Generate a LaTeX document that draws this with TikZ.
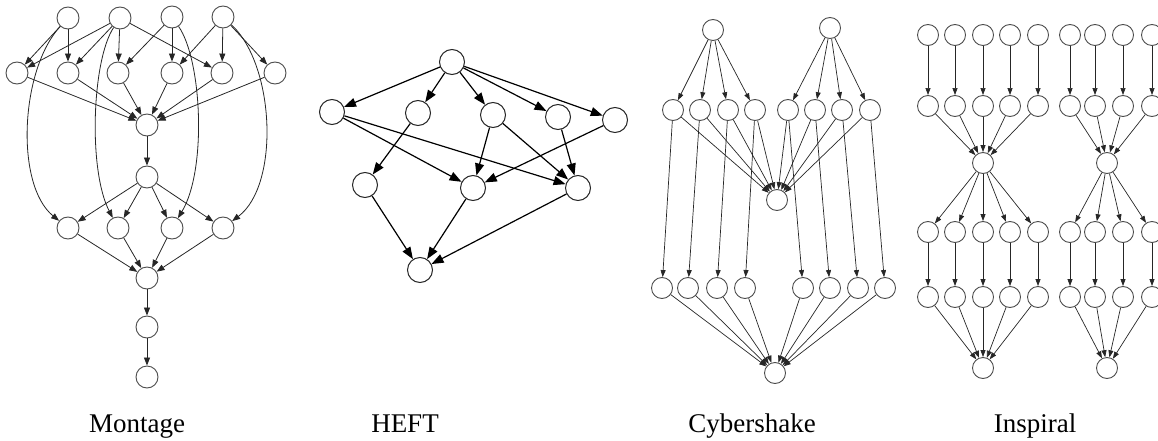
\documentclass[tikz,border=0pt]{standalone}
\usepackage{fontspec}
\setmainfont{Liberation Serif}
\usetikzlibrary{arrows.meta}
\tikzset{
  nd/.style={circle, draw=black!70, line width=0.9pt, minimum size=21pt, inner sep=0pt, fill=white},
  mnd/.style={nd, minimum size=22pt},
  hnd/.style={nd, minimum size=25pt, line width=1pt, draw=black!85},
  ar/.style={draw=black!85, line width=0.8pt, -{Triangle[length=8pt,width=6pt]}},
  sar/.style={draw=black!85, line width=0.7pt, -{Triangle[length=7pt,width=5pt]}},
  har/.style={draw=black, line width=1.2pt, -{Triangle[length=12pt,width=9pt]}},
  lbl/.style={anchor=base, inner sep=0pt, font=\fontsize{27}{30}\selectfont}
}
\begin{document}
\begin{tikzpicture}[x=1pt,y=-1pt]
\useasboundingbox (0,0) rectangle (1158,441);
% ---------------- Montage ----------------
\node[mnd] (A1) at (68,18) {};
\node[mnd] (A2) at (120,18) {};
\node[mnd] (A3) at (172,17) {};
\node[mnd] (A4) at (223,17) {};
\node[mnd] (B1) at (17,73) {};
\node[mnd] (B2) at (68,73) {};
\node[mnd] (B3) at (118,73) {};
\node[mnd] (B4) at (172,73) {};
\node[mnd] (B5) at (222,73) {};
\node[mnd] (B6) at (275,73) {};
\node[mnd] (C) at (147,125) {};
\node[mnd] (D) at (147,177) {};
\node[mnd] (E1) at (68,228) {};
\node[mnd] (E2) at (118,228) {};
\node[mnd] (E3) at (172,228) {};
\node[mnd] (E4) at (223,228) {};
\node[mnd] (F) at (147,278) {};
\node[mnd] (G) at (147,327) {};
\node[mnd] (H) at (147,377) {};
\foreach \s/\t in {A1/B1,A1/B2,A2/B1,A2/B2,A2/B3,A2/B5,A3/B3,A3/B4,A4/B4,A4/B5,A4/B6,
  B1/C,B2/C,B3/C,B4/C,B5/C,B6/C,C/D,D/E1,D/E2,D/E3,D/E4,E1/F,E2/F,E3/F,E4/F,F/G,G/H}
  \draw[ar] (\s) -- (\t);
\draw[ar] (A1) .. controls (20,70) and (15,185) .. (E1);
\draw[ar] (A2) .. controls (92,60) and (88,170) .. (E2);
\draw[ar] (A3) .. controls (202,60) and (207,170) .. (E3);
\draw[ar] (A4) .. controls (275,65) and (280,185) .. (E4);
\node[lbl] (lm) at (137,432) {Montage};
% ---------------- HEFT ----------------
\node[hnd] (T) at (452,62) {};
\node[hnd] (P1) at (332,112) {};
\node[hnd] (P2) at (418,113) {};
\node[hnd] (P3) at (493,115) {};
\node[hnd] (P4) at (558,117) {};
\node[hnd] (P5) at (615,120) {};
\node[hnd] (Q1) at (365,185) {};
\node[hnd] (Q2) at (473,188) {};
\node[hnd] (Q3) at (578,188) {};
\node[hnd] (S) at (420,270) {};
\foreach \s/\t in {T/P1,T/P2,T/P3,T/P4,T/P5,P1/Q2,P1/Q3,P2/Q1,P3/Q2,P3/Q3,P4/Q3,P5/Q2,Q1/S,Q2/S,Q3/S}
  \draw[har] (\s) -- (\t);
\node[lbl] (lh) at (405,432) {HEFT};
% ---------------- Cybershake ----------------
\node[nd] (U1) at (713,30) {};
\node[nd] (U2) at (830,28) {};
\node[nd] (M1) at (777,200) {};
\node[nd] (M2) at (775,373) {};
\foreach \i/\x/\y in {1/673/662,2/700/688,3/728/717,4/755/745,5/788/803,6/815/830,7/842/858,8/870/885}{
  \node[nd] (V\i) at (\x,110) {};
  \node[nd] (W\i) at (\y,288) {};
}
\foreach \i in {1,...,4} \draw[sar] (U1) -- (V\i);
\foreach \i in {5,...,8} \draw[sar] (U2) -- (V\i);
\foreach \i in {1,...,8}{
  \draw[sar] (V\i) -- (M1);
  \draw[sar] (V\i) -- (W\i);
  \draw[sar] (W\i) -- (M2);
}
\node[lbl] (lc) at (752,432) {Cybershake};
% ---------------- Inspiral ----------------
\node[nd] (IL1) at (983,163) {};
\node[nd] (IL2) at (983,368) {};
\node[nd] (IR1) at (1107,163) {};
\node[nd] (IR2) at (1107,368) {};
\foreach \i/\x/\g in {1/928/L,2/955/L,3/983/L,4/1010/L,5/1038/L,6/1070/R,7/1095/R,8/1123/R,9/1152/R}{
  \node[nd] (X\i) at (\x,35) {};
  \node[nd] (Y\i) at (\x,106) {};
  \node[nd] (Z\i) at (\x,232) {};
  \node[nd] (K\i) at (\x,297) {};
  \draw[sar] (X\i) -- (Y\i);
  \draw[sar] (Y\i) -- (I\g1);
  \draw[sar] (I\g1) -- (Z\i);
  \draw[sar] (Z\i) -- (K\i);
  \draw[sar] (K\i) -- (I\g2);
}
\node[lbl] (li) at (1035,432) {Inspiral};
\end{tikzpicture}
\end{document}
